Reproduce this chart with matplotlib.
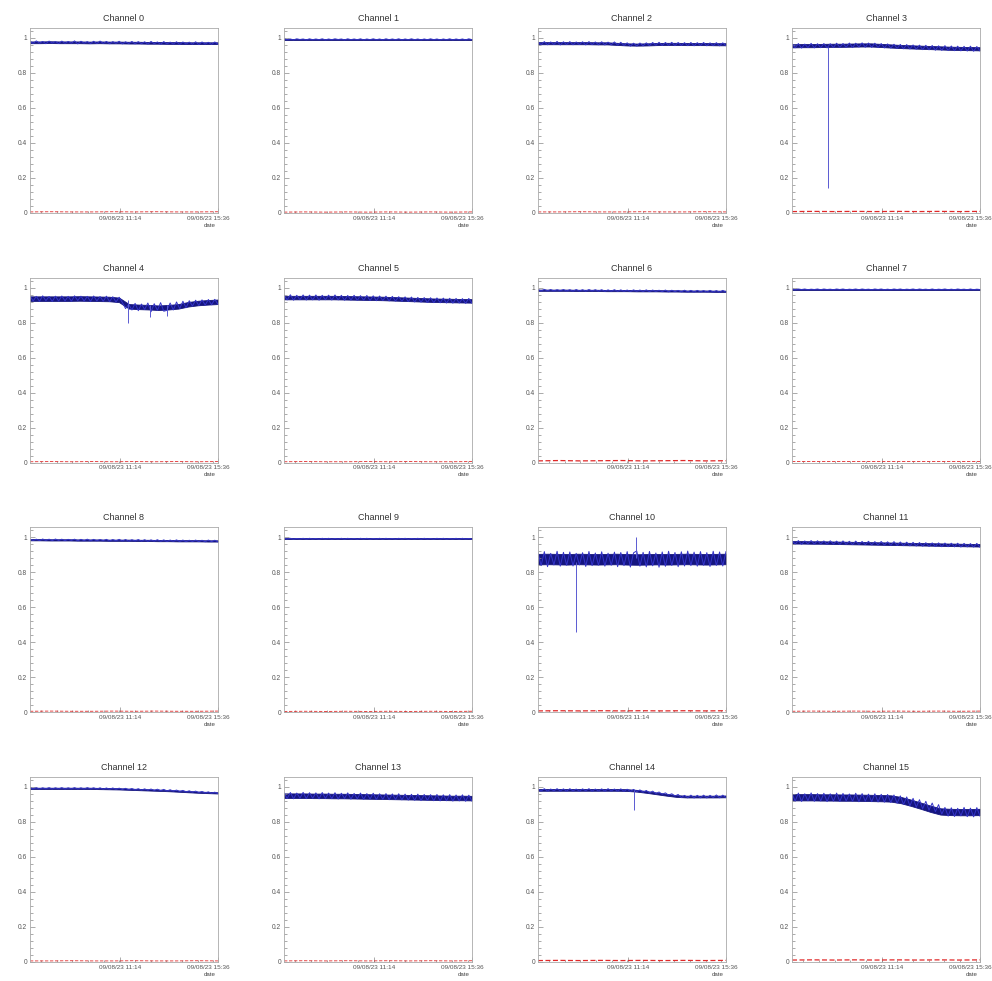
import matplotlib
matplotlib.use('Agg')
import matplotlib.pyplot as plt
import numpy as np
from matplotlib.ticker import FixedLocator, MultipleLocator, NullFormatter

# time axis (hours of the day), samples evenly spaced over the run
t_start, t_end = 7.2, 15.6
time_ticks = [11.233, 15.6]
time_labels = ['09/08/23 11:14', '09/08/23 15:36']
y_ticks = [0, 0.2, 0.4, 0.6, 0.8, 1.0]
y_labels = ['0', '0.2', '0.4', '0.6', '0.8', '1']

# efficiency per channel, raw samples (blue, noisy)
eff = [
    # 0
    [0.981,0.969,0.983,0.970,0.980,0.967,0.982,0.971,0.979,0.968,
     0.982,0.969,0.980,0.970,0.983,0.966,0.981,0.970,0.979,0.968,
     0.981,0.968,0.982,0.969,0.980,0.967,0.979,0.969,0.981,0.966,
     0.978,0.968,0.980,0.966,0.979,0.967,0.978,0.965,0.980,0.967,
     0.977,0.964,0.979,0.966,0.976,0.965,0.978,0.963,0.977,0.965,
     0.976,0.964,0.978,0.962,0.977,0.965,0.975,0.963,0.977,0.964],
    # 1
    [0.995,0.990,0.994,0.989,0.995,0.991,0.994,0.989,0.995,0.990,
     0.994,0.990,0.995,0.989,0.994,0.990,0.995,0.991,0.994,0.989,
     0.995,0.990,0.994,0.990,0.995,0.989,0.994,0.990,0.995,0.990,
     0.994,0.989,0.995,0.990,0.994,0.990,0.995,0.989,0.994,0.990,
     0.995,0.990,0.994,0.989,0.994,0.990,0.995,0.990,0.994,0.989,
     0.994,0.990,0.995,0.989,0.994,0.990,0.994,0.989,0.995,0.990],
    # 2
    [0.978,0.962,0.979,0.961,0.977,0.963,0.980,0.960,0.978,0.962,
     0.979,0.961,0.977,0.962,0.978,0.960,0.979,0.962,0.977,0.961,
     0.978,0.960,0.976,0.961,0.977,0.959,0.975,0.957,0.972,0.953,
     0.970,0.954,0.971,0.955,0.972,0.956,0.974,0.958,0.975,0.957,
     0.974,0.958,0.975,0.956,0.974,0.957,0.973,0.956,0.974,0.955,
     0.973,0.957,0.974,0.955,0.972,0.956,0.973,0.955,0.972,0.956],
    # 3
    [0.966,0.944,0.968,0.942,0.965,0.945,0.969,0.943,0.967,0.944,
     0.968,0.943,0.967,0.945,0.970,0.946,0.968,0.947,0.971,0.945,
     0.970,0.948,0.972,0.947,0.971,0.946,0.970,0.945,0.968,0.943,
     0.966,0.942,0.964,0.940,0.963,0.938,0.962,0.937,0.960,0.936,
     0.959,0.933,0.958,0.932,0.957,0.930,0.955,0.929,0.956,0.928,
     0.954,0.927,0.953,0.926,0.952,0.925,0.953,0.924,0.951,0.926],
    # 4
    [0.952,0.924,0.950,0.922,0.953,0.925,0.949,0.921,0.951,0.923,
     0.952,0.924,0.950,0.922,0.953,0.926,0.951,0.923,0.950,0.921,
     0.952,0.924,0.949,0.922,0.951,0.920,0.948,0.918,0.945,0.915,
     0.880,0.905,0.872,0.910,0.868,0.906,0.875,0.912,0.862,0.908,
     0.870,0.914,0.865,0.870,0.912,0.872,0.918,0.880,0.922,0.885,
     0.925,0.895,0.928,0.898,0.930,0.900,0.932,0.902,0.933,0.905],
    # 5
    [0.957,0.930,0.959,0.928,0.956,0.931,0.958,0.929,0.957,0.930,
     0.958,0.928,0.956,0.931,0.957,0.929,0.958,0.930,0.956,0.928,
     0.955,0.929,0.956,0.927,0.954,0.928,0.955,0.926,0.953,0.925,
     0.952,0.926,0.951,0.924,0.950,0.923,0.948,0.922,0.947,0.920,
     0.946,0.918,0.944,0.917,0.943,0.915,0.942,0.914,0.941,0.913,
     0.940,0.912,0.939,0.911,0.938,0.912,0.937,0.910,0.938,0.911],
    # 6
    [0.989,0.981,0.990,0.982,0.989,0.981,0.988,0.982,0.989,0.981,
     0.988,0.980,0.989,0.981,0.988,0.980,0.989,0.981,0.988,0.980,
     0.988,0.979,0.987,0.980,0.988,0.979,0.987,0.979,0.986,0.978,
     0.987,0.979,0.986,0.978,0.987,0.977,0.986,0.978,0.985,0.977,
     0.986,0.976,0.985,0.977,0.984,0.976,0.985,0.976,0.984,0.975,
     0.984,0.976,0.983,0.975,0.984,0.975,0.983,0.974,0.984,0.975],
    # 7
    [0.992,0.988,0.992,0.989,0.992,0.988,0.991,0.989,0.992,0.988,
     0.992,0.989,0.991,0.988,0.992,0.989,0.992,0.988,0.991,0.989,
     0.992,0.988,0.992,0.989,0.991,0.988,0.992,0.989,0.992,0.988,
     0.991,0.988,0.992,0.989,0.992,0.988,0.991,0.989,0.992,0.988,
     0.992,0.989,0.991,0.988,0.992,0.988,0.991,0.989,0.992,0.988,
     0.991,0.988,0.992,0.989,0.991,0.988,0.992,0.988,0.991,0.989],
    # 8
    [0.990,0.982,0.989,0.981,0.990,0.982,0.989,0.981,0.990,0.982,
     0.989,0.981,0.988,0.982,0.989,0.980,0.988,0.981,0.989,0.980,
     0.988,0.980,0.987,0.981,0.988,0.979,0.987,0.980,0.988,0.979,
     0.987,0.978,0.986,0.979,0.987,0.978,0.986,0.977,0.985,0.978,
     0.986,0.977,0.985,0.976,0.984,0.977,0.985,0.976,0.984,0.975,
     0.983,0.976,0.984,0.975,0.983,0.974,0.984,0.975,0.983,0.974],
    # 9
    [0.994,0.990,0.994,0.989,0.993,0.990,0.994,0.989,0.994,0.990,
     0.993,0.989,0.994,0.990,0.994,0.989,0.993,0.990,0.994,0.989,
     0.994,0.990,0.993,0.989,0.994,0.990,0.994,0.989,0.993,0.990,
     0.994,0.989,0.994,0.990,0.993,0.989,0.994,0.990,0.994,0.989,
     0.993,0.990,0.994,0.989,0.994,0.990,0.993,0.989,0.994,0.990,
     0.994,0.989,0.993,0.990,0.994,0.989,0.994,0.990,0.993,0.989],
    # 10
    [0.912,0.838,0.918,0.832,0.908,0.842,0.920,0.835,0.914,0.840,
     0.916,0.836,0.908,0.842,0.912,0.833,0.919,0.838,0.910,0.841,
     0.917,0.835,0.909,0.840,0.915,0.832,0.913,0.838,0.918,0.830,
     0.911,0.922,0.835,0.914,0.831,0.919,0.837,0.910,0.829,0.916,
     0.834,0.920,0.839,0.913,0.832,0.917,0.836,0.921,0.838,0.915,
     0.835,0.918,0.840,0.912,0.833,0.920,0.839,0.916,0.836,0.918],
    # 11
    [0.980,0.962,0.981,0.960,0.979,0.963,0.981,0.961,0.980,0.962,
     0.979,0.960,0.980,0.961,0.978,0.959,0.979,0.960,0.977,0.958,
     0.978,0.959,0.976,0.958,0.977,0.957,0.975,0.956,0.976,0.955,
     0.974,0.954,0.975,0.953,0.973,0.952,0.972,0.951,0.971,0.950,
     0.970,0.949,0.969,0.948,0.968,0.947,0.968,0.946,0.967,0.946,
     0.966,0.945,0.966,0.944,0.965,0.945,0.964,0.944,0.965,0.943],
    # 12
    [0.996,0.989,0.996,0.988,0.995,0.989,0.996,0.988,0.995,0.989,
     0.996,0.988,0.995,0.989,0.996,0.988,0.995,0.988,0.996,0.989,
     0.995,0.988,0.995,0.987,0.994,0.987,0.994,0.986,0.993,0.985,
     0.992,0.984,0.991,0.983,0.990,0.982,0.989,0.981,0.988,0.980,
     0.987,0.979,0.986,0.977,0.984,0.976,0.982,0.974,0.980,0.972,
     0.978,0.970,0.976,0.968,0.974,0.966,0.972,0.964,0.970,0.962],
    # 13
    [0.966,0.934,0.968,0.932,0.965,0.936,0.969,0.933,0.967,0.935,
     0.966,0.932,0.968,0.934,0.965,0.933,0.967,0.931,0.964,0.934,
     0.966,0.930,0.963,0.932,0.965,0.929,0.962,0.931,0.964,0.928,
     0.961,0.929,0.962,0.927,0.960,0.928,0.961,0.926,0.959,0.925,
     0.958,0.924,0.959,0.922,0.957,0.923,0.956,0.921,0.957,0.920,
     0.955,0.921,0.956,0.919,0.954,0.920,0.955,0.918,0.953,0.919],
    # 14
    [0.989,0.977,0.990,0.976,0.988,0.978,0.990,0.977,0.989,0.976,
     0.990,0.977,0.988,0.976,0.989,0.978,0.990,0.976,0.988,0.977,
     0.989,0.976,0.990,0.977,0.988,0.976,0.989,0.975,0.987,0.974,
     0.986,0.973,0.983,0.970,0.980,0.966,0.976,0.962,0.971,0.958,
     0.966,0.953,0.961,0.948,0.957,0.939,0.952,0.938,0.953,0.937,
     0.952,0.938,0.953,0.937,0.952,0.939,0.954,0.938,0.953,0.939],
    # 15
    [0.963,0.919,0.965,0.917,0.961,0.921,0.966,0.918,0.962,0.920,
     0.964,0.916,0.961,0.919,0.965,0.917,0.963,0.920,0.960,0.918,
     0.964,0.915,0.962,0.919,0.959,0.916,0.961,0.914,0.958,0.913,
     0.957,0.911,0.954,0.907,0.949,0.900,0.943,0.892,0.935,0.884,
     0.927,0.875,0.918,0.867,0.908,0.859,0.899,0.845,0.883,0.833,
     0.881,0.831,0.878,0.835,0.883,0.830,0.879,0.829,0.882,0.833],
]

# dense core of the efficiency band: centre values and half width
core = [
    [0.975,0.975,0.976,0.975,0.975,0.975,0.974,0.975,0.974,0.974,0.973,0.973,0.972,0.972,0.971,0.971,0.970,0.970,0.970,0.970],
    [0.992,0.992,0.992,0.992,0.992,0.992,0.992,0.992,0.992,0.992,0.992,0.992,0.992,0.992,0.992,0.992,0.992,0.992,0.992,0.992],
    [0.970,0.970,0.970,0.970,0.970,0.970,0.969,0.969,0.966,0.963,0.962,0.963,0.965,0.966,0.966,0.965,0.965,0.965,0.964,0.964],
    [0.955,0.956,0.956,0.957,0.958,0.958,0.959,0.960,0.960,0.957,0.954,0.951,0.949,0.947,0.945,0.943,0.941,0.940,0.939,0.938],
    [0.937,0.937,0.937,0.937,0.937,0.938,0.937,0.936,0.935,0.930,0.893,0.890,0.888,0.885,0.888,0.893,0.905,0.912,0.916,0.919],
    [0.943,0.943,0.943,0.943,0.943,0.943,0.942,0.941,0.940,0.939,0.938,0.936,0.934,0.932,0.930,0.928,0.927,0.926,0.925,0.924],
    [0.985,0.985,0.985,0.985,0.984,0.984,0.984,0.983,0.983,0.983,0.982,0.982,0.982,0.981,0.981,0.980,0.980,0.980,0.979,0.979],
    [0.990,0.990,0.990,0.990,0.990,0.990,0.990,0.990,0.990,0.990,0.990,0.990,0.990,0.990,0.990,0.990,0.990,0.990,0.990,0.990],
    [0.986,0.986,0.985,0.985,0.985,0.984,0.984,0.984,0.983,0.983,0.983,0.982,0.982,0.981,0.981,0.980,0.980,0.980,0.979,0.979],
    [0.991,0.991,0.991,0.991,0.991,0.991,0.991,0.991,0.991,0.991,0.991,0.991,0.991,0.991,0.991,0.991,0.991,0.991,0.991,0.991],
    [0.875,0.876,0.875,0.874,0.876,0.875,0.874,0.875,0.876,0.874,0.873,0.874,0.875,0.874,0.875,0.876,0.875,0.874,0.875,0.876],
    [0.971,0.971,0.970,0.970,0.969,0.968,0.967,0.966,0.965,0.964,0.963,0.962,0.961,0.960,0.959,0.958,0.957,0.956,0.955,0.954],
    [0.992,0.992,0.992,0.992,0.992,0.992,0.992,0.991,0.990,0.989,0.987,0.985,0.983,0.981,0.979,0.976,0.973,0.970,0.968,0.966],
    [0.950,0.950,0.950,0.949,0.949,0.948,0.948,0.947,0.946,0.945,0.944,0.943,0.942,0.941,0.940,0.939,0.938,0.937,0.937,0.936],
    [0.983,0.983,0.983,0.983,0.983,0.983,0.983,0.983,0.983,0.982,0.978,0.971,0.963,0.955,0.948,0.945,0.945,0.945,0.945,0.946],
    [0.941,0.941,0.941,0.940,0.940,0.939,0.939,0.938,0.937,0.936,0.934,0.925,0.910,0.893,0.875,0.860,0.857,0.856,0.856,0.857],
]
core_halfwidth = [0.005, 0.0025, 0.006, 0.009, 0.013, 0.010, 0.0035, 0.002,
                  0.0035, 0.002, 0.030, 0.007, 0.0035, 0.013, 0.005, 0.018]

# single outlier samples (drawn as thin vertical strokes)
spike_ch = [3, 4, 4, 4, 10, 10, 14]
spike_t = [8.80, 11.57, 12.58, 13.33, 8.88, 11.57, 11.48]
spike_lo = [0.14, 0.80, 0.83, 0.84, 0.46, 0.88, 0.87]
spike_hi = [0.95, 0.93, 0.90, 0.90, 0.86, 1.00, 0.98]

# fake rate per channel (red), coarser sampling
fake = [
    [0.006,0.007,0.006,0.006,0.007,0.006,0.007,0.006,0.006,0.007],
    [0.005,0.006,0.005,0.006,0.005,0.006,0.005,0.006,0.005,0.006],
    [0.006,0.006,0.007,0.006,0.006,0.007,0.006,0.006,0.007,0.006],
    [0.008,0.009,0.008,0.009,0.008,0.009,0.008,0.009,0.008,0.009],
    [0.005,0.006,0.005,0.006,0.005,0.006,0.005,0.006,0.005,0.006],
    [0.005,0.006,0.005,0.005,0.006,0.005,0.006,0.005,0.005,0.006],
    [0.010,0.012,0.010,0.011,0.012,0.010,0.011,0.012,0.010,0.011],
    [0.006,0.007,0.006,0.007,0.006,0.007,0.006,0.007,0.006,0.007],
    [0.006,0.007,0.006,0.006,0.007,0.006,0.007,0.006,0.006,0.007],
    [0.005,0.006,0.005,0.006,0.005,0.006,0.005,0.006,0.005,0.006],
    [0.008,0.009,0.008,0.009,0.008,0.009,0.008,0.009,0.008,0.009],
    [0.006,0.007,0.006,0.007,0.006,0.007,0.006,0.007,0.006,0.007],
    [0.006,0.006,0.007,0.006,0.006,0.007,0.006,0.006,0.007,0.006],
    [0.006,0.007,0.006,0.007,0.006,0.007,0.006,0.007,0.006,0.007],
    [0.008,0.009,0.008,0.009,0.008,0.009,0.008,0.009,0.008,0.009],
    [0.011,0.012,0.011,0.012,0.011,0.012,0.011,0.012,0.011,0.012],
]
strong_red = [3, 6, 10, 14, 15]

t = np.linspace(t_start, t_end, len(eff[0]))
t_core = np.linspace(t_start, t_end, len(core[0]))
t_red = np.linspace(t_start, t_end, len(fake[0]))

plt.rcParams['font.family'] = ['Liberation Sans', 'DejaVu Sans']

fig = plt.figure(figsize=(9.92, 9.81), dpi=100)
lefts = [0.0302, 0.2863, 0.5423, 0.7984]
bottoms = [0.7829, 0.5284, 0.2739, 0.0194]
w, h = 0.1895, 0.1886
label_shift = [0, -7]   # points; keeps the end-of-range label inside the panel row

for k in range(16):
    r, c = divmod(k, 4)
    ax = fig.add_axes([lefts[c], bottoms[r], w, h])
    ax.plot(t_red, fake[k], color='#e02828',
            lw=0.9 if k in strong_red else 0.6, ls=(0, (4, 2)))
    ax.plot(t, eff[k], color='#3434c8', lw=0.7)
    cc = np.array(core[k])
    ax.fill_between(t_core, cc - core_halfwidth[k], cc + core_halfwidth[k],
                    color='#15157f', lw=0.6, edgecolor='#15157f')
    for ch, st, lo, hi in zip(spike_ch, spike_t, spike_lo, spike_hi):
        if ch == k:
            ax.vlines(st, lo, hi, color='#5a5ad2', lw=0.7)
    ax.set_xlim(t_start, t_end)
    ax.set_ylim(0, 1.057)
    ax.set_title('Channel %d' % k, fontsize=6.5, color='#333333', pad=5)

    ax.yaxis.set_major_locator(FixedLocator(y_ticks))
    ax.set_yticklabels(y_labels)
    ax.yaxis.set_minor_locator(MultipleLocator(0.04))
    ax.xaxis.set_major_locator(FixedLocator(time_ticks))
    ax.xaxis.set_major_formatter(NullFormatter())
    ax.xaxis.set_minor_locator(MultipleLocator(0.7))
    for tk, lab, dx in zip(time_ticks, time_labels, label_shift):
        ax.annotate(lab, xy=(tk, 0), xycoords=('data', 'axes fraction'),
                    xytext=(dx, -2), textcoords='offset points',
                    ha='center', va='top', fontsize=4.6, color='#555555')

    ax.tick_params(which='both', direction='in', color='#888888', width=0.5,
                   labelcolor='#555555', pad=2, top=False, right=False)
    ax.tick_params(axis='y', labelsize=4.8)
    ax.tick_params(which='major', length=3.5)
    ax.tick_params(which='minor', length=1.8)
    for s in ax.spines.values():
        s.set_color('#aaaaaa')
        s.set_linewidth(0.6)
    ax.text(0.955, -0.052, 'date', transform=ax.transAxes, ha='center',
            va='top', fontsize=4.4, color='#444444')

fig.savefig('out.png', dpi=100)
